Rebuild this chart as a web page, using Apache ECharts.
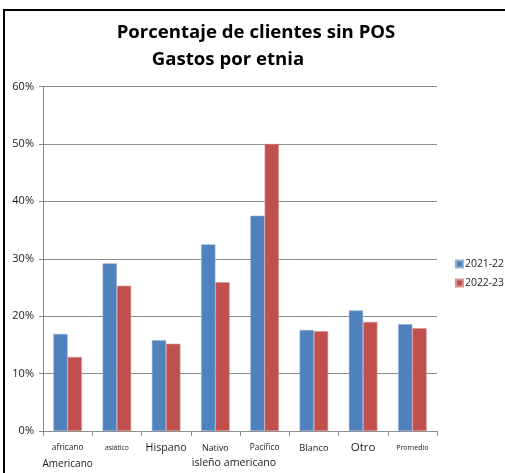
<!DOCTYPE html>
<html>
<head>
<meta charset="utf-8">
<script src="https://cdn.jsdelivr.net/npm/echarts@6/dist/echarts.min.js"></script>
<style>
  html, body { margin: 0; padding: 0; background: #fff; }
  #chart { width: 505px; height: 473px; }
</style>
</head>
<body>
<div id="chart"></div>
<script>
// categories as they appear under the bars
const categories = ["africano", "asiático", "Hispano", "Nativo", "Pacífico", "Blanco", "Otro", "Promedio"]
const seriesNames = ["2021-22", "2022-23"]
const values2122 = [16.9, 29.2, 15.8, 32.5, 37.5, 17.6, 21.0, 18.6]
const values2223 = [12.9, 25.3, 15.2, 25.9, 50.0, 17.4, 19.0, 17.9]
const yTicks = [0, 10, 20, 30, 40, 50, 60]
const extraLabels = { africano: "Americano" }
const spanLabel = "isleño americano"

const font = "'Open Sans', 'Noto Sans', sans-serif"
const colors = {
  blue: '#4F81BD',
  red: '#C0504D',
  text: '#1a1a1a',
  grid: '#8c8c8c'
}

// Excel-like odd label sizes, one per category
const labelSizes = [8.3, 6.8, 10.7, 8.8, 8.3, 9.3, 11.6, 7.1]
const rich = { l2: { fontSize: 10, lineHeight: 16, color: colors.text, fontFamily: font } }
labelSizes.forEach((s, i) => {
  rich['c' + i] = { fontSize: s, lineHeight: 16, color: colors.text, fontFamily: font }
})

const chart = echarts.init(document.getElementById('chart'))

const option = {
  animation: false,
  backgroundColor: '#fff',
  textStyle: { fontFamily: font },
  legend: {
    data: seriesNames,
    orient: 'vertical',
    left: 455, top: 259,
    padding: 0,
    icon: 'rect',
    itemWidth: 7, itemHeight: 7, itemGap: 9,
    textStyle: { fontSize: 10.4, color: colors.text, fontFamily: font, padding: [0, 0, 0, -3] }
  },
  grid: { left: 43, right: 68, top: 86.5, bottom: 42 },
  xAxis: {
    type: 'category',
    data: categories,
    axisLine: { lineStyle: { color: colors.grid } },
    axisTick: { show: true, length: 5, lineStyle: { color: colors.grid } },
    axisLabel: {
      interval: 0,
      margin: 9,
      formatter: (value, idx) => {
        let s = '{c' + idx + '|' + value + '}'
        if (extraLabels[value]) s += '\n{l2|' + extraLabels[value] + '}'
        return s
      },
      rich: rich
    }
  },
  yAxis: {
    type: 'value',
    min: yTicks[0],
    max: yTicks[yTicks.length - 1],
    interval: 10,
    axisLine: { show: true, lineStyle: { color: colors.grid } },
    axisTick: { show: true, length: 4, lineStyle: { color: colors.grid } },
    splitLine: { lineStyle: { color: colors.grid, width: 1 } },
    axisLabel: {
      formatter: '{value}%',
      margin: 9,
      fontSize: 11,
      color: colors.text,
      fontFamily: font
    }
  },
  series: [
    {
      name: seriesNames[0],
      type: 'bar',
      data: values2122,
      barGap: '0%',
      barCategoryGap: '42%',
      itemStyle: { color: colors.blue, borderColor: '#8fb0da', borderWidth: 0.6 }
    },
    {
      name: seriesNames[1],
      type: 'bar',
      data: values2223,
      itemStyle: { color: colors.red, borderColor: '#dc9391', borderWidth: 0.6 }
    }
  ]
}

chart.setOption(option)

// title lines, the second line under "Nativo / Pacífico" and the outer frame
const xa = chart.convertToPixel({ xAxisIndex: 0 }, categories[3])
const xb = chart.convertToPixel({ xAxisIndex: 0 }, categories[4])
const y0 = chart.convertToPixel({ yAxisIndex: 0 }, 0)
chart.setOption({
  graphic: [
    {
      type: 'text', x: 256, y: 33,
      style: { text: 'Porcentaje de clientes sin POS', textAlign: 'center', textVerticalAlign: 'middle', fill: '#000', font: 'bold 18.6px ' + font }
    },
    {
      type: 'text', x: 228, y: 60,
      style: { text: 'Gastos por etnia', textAlign: 'center', textVerticalAlign: 'middle', fill: '#000', font: 'bold 18.6px ' + font }
    },
    {
      type: 'text',
      x: (xa + xb) / 2 - 6,
      y: y0 + 32,
      style: {
        text: spanLabel,
        fontSize: 10.6, fill: colors.text, fontFamily: font,
        textAlign: 'center', textVerticalAlign: 'middle'
      }
    },
    {
      type: 'rect',
      shape: { x: 4, y: 10, width: 700, height: 700 },
      style: { fill: 'none', stroke: '#000', lineWidth: 2 },
      silent: true
    }
  ]
})
</script>
</body>
</html>
